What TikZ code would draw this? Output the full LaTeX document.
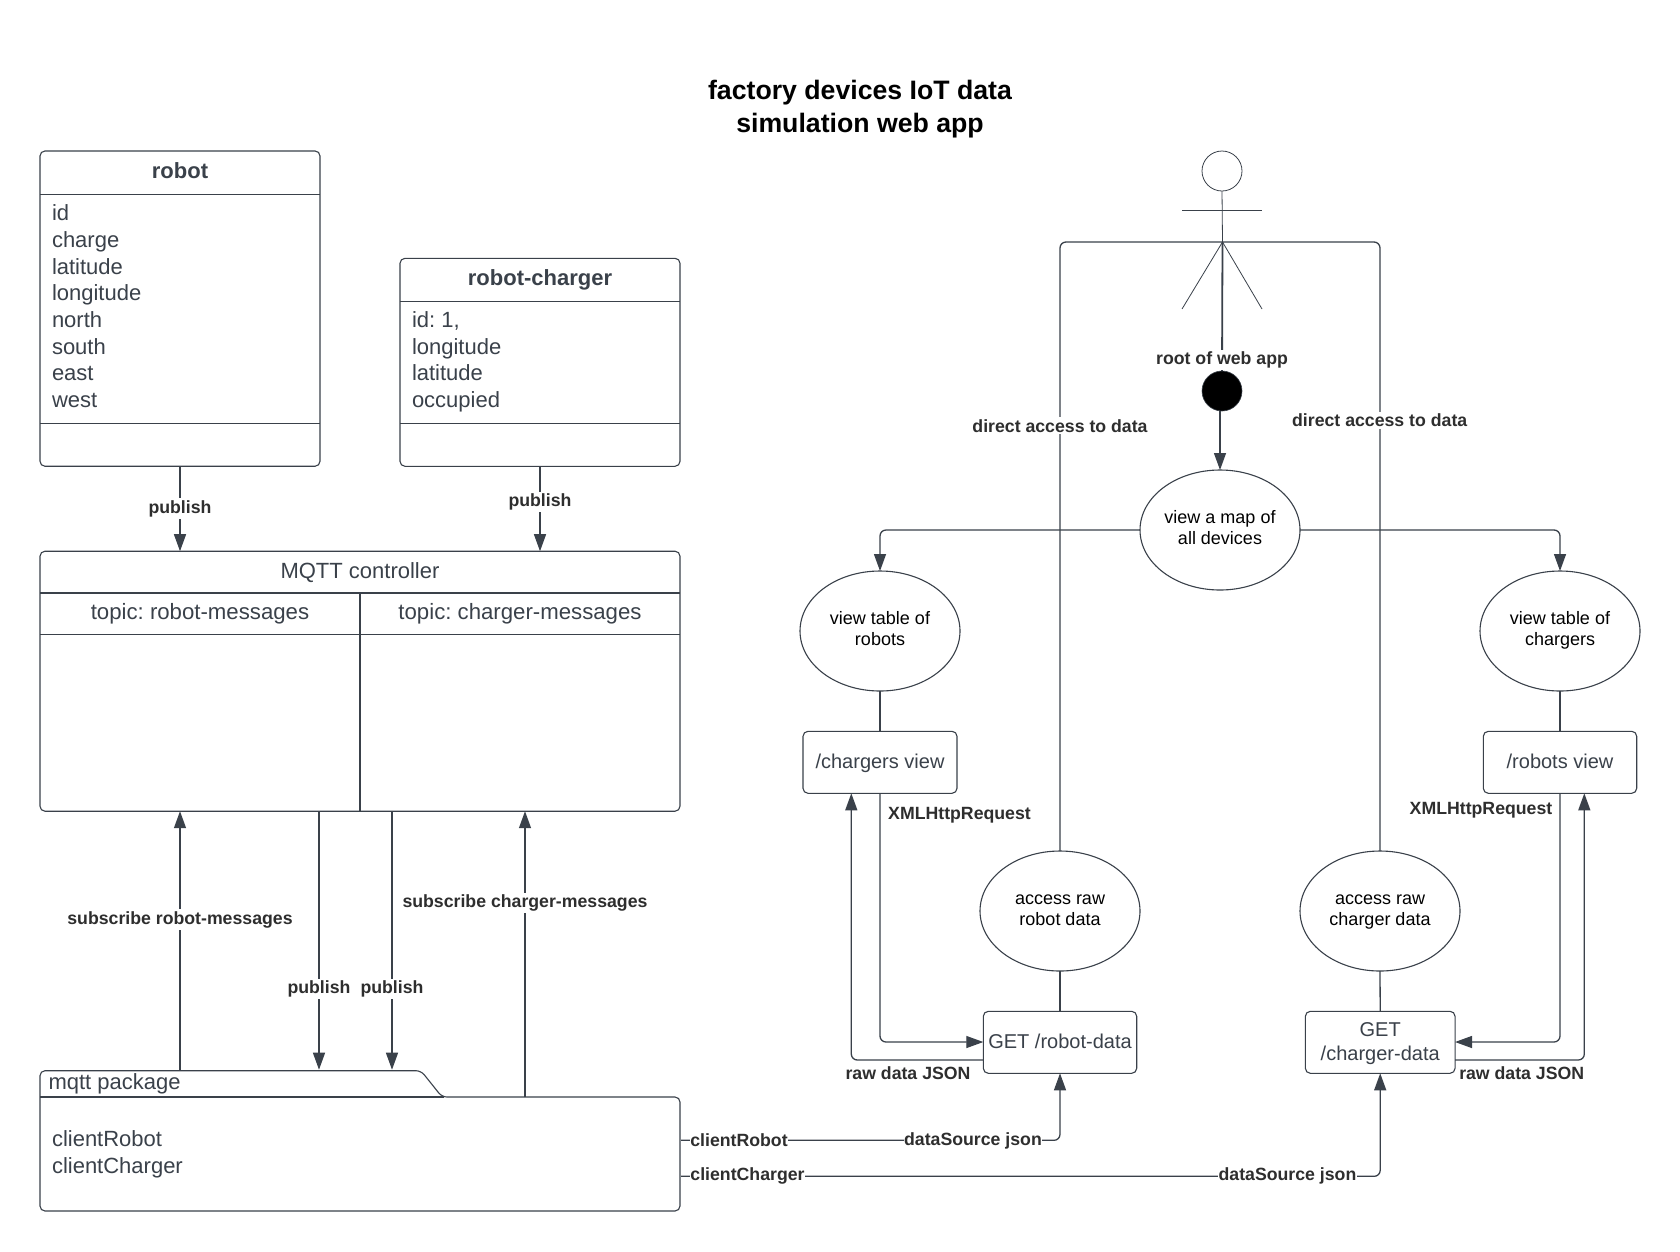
\documentclass[tikz,border=0pt]{standalone}
\usepackage{fontspec}
\setmainfont{Liberation Sans}
\usetikzlibrary{arrows.meta,calc,shapes.geometric}
\definecolor{ln}{HTML}{3A414A}
\definecolor{lb}{HTML}{2E2E2E}
\newcommand{\ucase}[2]{\strut #1\\\strut #2\rule[-7pt]{0pt}{1pt}}
\newcommand{\bstrut}{\strut\rule{0pt}{18.9pt}}
\frenchspacing
\tikzset{
  base/.style={inner sep=0pt,outer sep=0pt},
  box/.style={base,draw=ln,line width=1.1pt,rounded corners=5pt,text=ln,align=center,font=\fontsize{20}{24}\selectfont},
  fields/.style={base,anchor=west,align=left,text=ln,font=\fontsize{22}{26.67}\selectfont},
  head/.style={base,text=ln,font=\fontsize{22}{26.67}\bfseries\selectfont},
  subhead/.style={base,text=ln,font=\fontsize{22}{26.67}\selectfont},
  topictxt/.style={base,text=ln,font=\fontsize{22.2}{26.67}\selectfont},
  usecase/.style={base,draw=ln,line width=1.1pt,ellipse,minimum width=160pt,minimum height=120pt,align=center,text=black,font=\fontsize{18}{21.7}\selectfont},
  lbl/.style={base,fill=white,inner xsep=0.5pt,inner ysep=2pt,text=lb,font=\fontsize{17.7}{21}\bfseries\selectfont},
  titletxt/.style={base,align=center,text=black,font=\fontsize{26.67}{32.8}\bfseries\selectfont},
  conn/.style={draw=ln,line width=1.3pt,rounded corners=6pt},
  arr/.style={conn,-{Triangle[length=17pt,width=12pt,fill=ln]}},
  part/.style={draw=ln,line width=1.1pt},
  stick/.style={draw=ln,line width=0.8pt}
}
\begin{document}
\begin{tikzpicture}[x=1pt,y=-1pt]
\useasboundingbox (0,0) rectangle (1680,1251);
\fill[white] (0,0) rectangle (1680,1251);

% title
\node[titletxt] (title) at (860,108.7) {factory devices IoT data\\simulation web app};

% robot class
\node[box,minimum width=280pt,minimum height=315.3pt] (robot) at (180,308.6) {};
\draw[part] (40,194.3) -- (320,194.3);
\draw[part] (40,423.3) -- (320,423.3);
\node[head] (robotT) at (180,171) {robot};
\node[fields] (robotF) at (52,306.3) {id\\charge\\latitude\\longitude\\north\\south\\east\\west};

% charger class
\node[box,minimum width=280pt,minimum height=208pt] (charger) at (540,362.3) {};
\draw[part] (400,301.3) -- (680,301.3);
\draw[part] (400,423.3) -- (680,423.3);
\node[head] (chargerT) at (540,279.7) {robot-charger};
\node[fields] (chargerF) at (412,361.8) {id: 1,\\longitude\\latitude\\occupied};

% MQTT controller
\node[box,minimum width=640pt,minimum height=260pt] (mqtt) at (360,681.2) {};
\draw[part] (40,593) -- (680,593);
\draw[part] (40,634.5) -- (680,634.5);
\draw[part] (360,593) -- (360,811.2);
\node[subhead] (mqttT) at (360,572.3) {MQTT controller};
\node[topictxt] (topicR) at (200,613.8) {topic: robot-messages};
\node[topictxt] (topicC) at (520,613.8) {topic: charger-messages};

% package
\draw[part,rounded corners=5pt] (40,1097) -- (40,1070.7) -- (421,1070.7) -- (442,1097) -- (680,1097) -- (680,1211) -- (40,1211) -- cycle;
\draw[part] (40,1097) -- (444,1097);
\node[base,minimum width=640pt,minimum height=114pt] (pkg) at (360,1154) {};
\node[fields] (pkgT) at (48.5,1084) {mqtt package};
\node[fields] (pkgF) at (52,1154) {clientRobot\\clientCharger};

% ports
\coordinate (subRpkg) at (180,1070.7);
\coordinate (subRmq) at (180,811.2);
\coordinate (pubAmq) at (319,811.2);
\coordinate (pubApkg) at (319,1069.7);
\coordinate (pubBmq) at (392,811.2);
\coordinate (pubBpkg) at (392,1069.7);
\coordinate (subCpkg) at (525,1097);
\coordinate (subCmq) at (525,811.2);
\coordinate (mqttA) at (180,551.2);
\coordinate (mqttB) at (540,551.2);
\coordinate (pkgA) at (681,1140.3);
\coordinate (pkgB) at (681,1176.3);

% left connectors
\draw[arr] (robot.south) -- (mqttA);
\draw[arr] (charger.south) -- (mqttB);
\draw[arr] (subRpkg) -- (subRmq);
\draw[arr] (pubAmq) -- (pubApkg);
\draw[arr] (pubBmq) -- (pubBpkg);
\draw[arr] (subCpkg) -- (subCmq);

% actor
\node[base,draw=ln,line width=0.8pt,circle,minimum size=40pt] (acthead) at (1222,171) {};
\coordinate (hip) at (1222.5,242);
\coordinate (armL) at (1182,210.3);
\coordinate (armR) at (1262,210.3);
\coordinate (legL) at (1182,309);
\coordinate (legR) at (1262,309);
\draw[stick] (acthead.south) -- (hip);
\draw[stick] (armL) -- (armR);
\draw[stick] (legL) -- (hip) -- (legR);

% start
\node[base,fill=black,draw=ln,line width=0.6pt,circle,minimum size=40pt] (start) at (1222,391) {};

% use cases
\node[usecase] (map) at (1220,530) {\ucase{view a map of}{all devices}};
\node[usecase] (tblR) at (880,631) {\ucase{view table of}{robots}};
\node[usecase] (tblC) at (1560,631) {\ucase{view table of}{chargers}};
\node[usecase] (rawR) at (1060,911) {\ucase{access raw}{robot data}};
\node[usecase] (rawC) at (1380,911) {\ucase{access raw}{charger data}};

% boxes
\node[box,minimum width=154pt,minimum height=62pt] (vC) at (880,762.3) {\bstrut /chargers view};
\node[box,minimum width=153.4pt,minimum height=62pt] (vR) at (1560,762.3) {\bstrut /robots view};
\node[box,minimum width=153.4pt,minimum height=62pt] (gR) at (1060,1042.3) {\bstrut GET /robot-data};
\node[box,minimum width=149.7pt,minimum height=62pt] (gC) at (1380.2,1042.3) {\bstrut GET\\\strut /charger-data};

% right connectors
\draw[conn,line width=1.8pt] (hip) -- (start.north);
\draw[arr] (start.south -| map.north) -- (map.north);
\draw[conn] (hip) -| (rawR.north);
\draw[conn] (hip) -| (rawC.north);
\draw[arr] (map.180) -| (tblR.north);
\draw[arr] (map.0) -| (tblC.north);
\draw[conn] (tblR.south) -- (vC.north);
\draw[conn] (tblC.south) -- (vR.north);
\draw[conn] (rawR.south) -- (gR.north);
\draw[conn] (rawC.south) -- (gC.north);

\coordinate (vCa) at (851.3,793.3);
\coordinate (vRa) at (1584.3,793.3);
\coordinate (gRa) at (983.3,1060);
\coordinate (gCa) at (1455,1060);
\coordinate (gRb) at (983.3,1042);
\coordinate (gCb) at (1455,1042);
\draw[arr] (vC.south) |- (gRb);
\draw[arr] (gRa) -| (vCa);
\draw[arr] (vR.south) |- (gCb);
\draw[arr] (gCa) -| (vRa);
\draw[arr] (pkgA) -| (gR.south);
\draw[arr] (pkgB) -| (gC.south);

% labels
\node[lbl] (l1) at (180,508.7) {publish};
\node[lbl] (l2) at (540,502) {publish};
\node[lbl] (l3) at (180,919.5) {subscribe robot-messages};
\node[lbl] (l4) at (319,989) {publish};
\node[lbl] (l5) at (392,989) {publish};
\node[lbl] (l6) at (525,903) {subscribe charger-messages};
\node[lbl] (l7) at (1222,360) {root of web app};
\node[lbl] (l8) at (1060,425.7) {direct access to data};
\node[lbl] (l9) at (1379.7,420) {direct access to data};
\node[lbl] (l10) at (959.5,815) {XMLHttpRequest};
\node[lbl] (l11) at (908,1073) {raw data JSON};
\node[lbl] (l12) at (1481,810) {XMLHttpRequest};
\node[lbl] (l13) at (1521.7,1073) {raw data JSON};
\node[lbl] (l14) at (739,1140.5) {clientRobot};
\node[lbl] (l15) at (973,1140.5) {dataSource json};
\node[lbl] (l16) at (747.5,1176) {clientCharger};
\node[lbl] (l17) at (1287.5,1176) {dataSource json};
\end{tikzpicture}
\end{document}
